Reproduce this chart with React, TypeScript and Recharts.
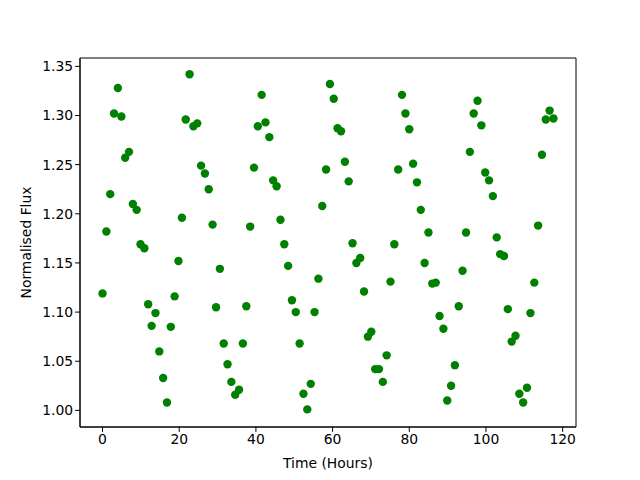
import React from 'react';
import { ScatterChart, Scatter, XAxis, YAxis, ReferenceArea } from 'recharts';

const hours = [
  0.0, 1.0, 2.0, 3.0, 4.0, 4.9, 5.9, 6.9, 7.9, 8.9,
  9.9, 10.9, 11.9, 12.8, 13.8, 14.8, 15.8, 16.8, 17.8, 18.8,
  19.8, 20.7, 21.7, 22.7, 23.7, 24.7, 25.7, 26.7, 27.7, 28.7,
  29.6, 30.6, 31.6, 32.6, 33.6, 34.6, 35.6, 36.6, 37.5, 38.5,
  39.5, 40.5, 41.5, 42.5, 43.5, 44.5, 45.4, 46.4, 47.4, 48.4,
  49.4, 50.4, 51.4, 52.4, 53.4, 54.3, 55.3, 56.3, 57.3, 58.3,
  59.3, 60.3, 61.3, 62.2, 63.2, 64.2, 65.2, 66.2, 67.2, 68.2,
  69.2, 70.1, 71.1, 72.1, 73.1, 74.1, 75.1, 76.1, 77.1, 78.1,
  79.0, 80.0, 81.0, 82.0, 83.0, 84.0, 85.0, 86.0, 86.9, 87.9,
  88.9, 89.9, 90.9, 91.9, 92.9, 93.9, 94.8, 95.8, 96.8, 97.8,
  98.8, 99.8, 100.8, 101.8, 102.8, 103.7, 104.7, 105.7, 106.7, 107.7,
  108.7, 109.7, 110.7, 111.6, 112.6, 113.6, 114.6, 115.6, 116.6, 117.6,
];

const flux = [
  1.119, 1.182, 1.220, 1.302, 1.328, 1.299, 1.257, 1.263, 1.210, 1.204,
  1.169, 1.165, 1.108, 1.086, 1.099, 1.060, 1.033, 1.008, 1.085, 1.116,
  1.152, 1.196, 1.296, 1.342, 1.289, 1.292, 1.249, 1.241, 1.225, 1.189,
  1.105, 1.144, 1.068, 1.047, 1.029, 1.016, 1.021, 1.068, 1.106, 1.187,
  1.247, 1.289, 1.321, 1.293, 1.278, 1.234, 1.228, 1.194, 1.169, 1.147,
  1.112, 1.100, 1.068, 1.017, 1.001, 1.027, 1.100, 1.134, 1.208, 1.245,
  1.332, 1.317, 1.287, 1.284, 1.253, 1.233, 1.170, 1.150, 1.155, 1.121,
  1.075, 1.080, 1.042, 1.042, 1.029, 1.056, 1.131, 1.169, 1.245, 1.321,
  1.302, 1.286, 1.251, 1.232, 1.204, 1.150, 1.181, 1.129, 1.130, 1.096,
  1.083, 1.010, 1.025, 1.046, 1.106, 1.142, 1.181, 1.263, 1.302, 1.315,
  1.290, 1.242, 1.234, 1.218, 1.176, 1.159, 1.157, 1.103, 1.070, 1.076,
  1.017, 1.008, 1.023, 1.099, 1.130, 1.188, 1.260, 1.296, 1.305, 1.297,
];

const xTicks = [0, 20, 40, 60, 80, 100, 120];
const yTicks = [1.0, 1.05, 1.1, 1.15, 1.2, 1.25, 1.3, 1.35];

const points = hours.map((t, i) => ({ t, f: flux[i] }));

const X_DOMAIN = [-5.88, 123.48];
const Y_DOMAIN = [0.9831, 1.3585];

const font = 'DejaVu Sans, sans-serif';
const tickStyle = { fontSize: 13.9, fill: '#000', fontFamily: font };

const Dot = (props: any) => <circle cx={props.cx} cy={props.cy} r={4.2} fill="#008000" />;

export default function App() {
  return (
    <div style={{ position: 'absolute', left: 0, top: 0, background: '#fff' }}>
      <ScatterChart width={640} height={480} margin={{ top: 58, right: 64, bottom: 0, left: 0 }}>
        <XAxis
          type="number"
          dataKey="t"
          domain={X_DOMAIN}
          ticks={xTicks}
          allowDataOverflow
          height={53}
          tick={tickStyle}
          tickSize={4.9}
          tickLine={{ stroke: '#000' }}
          axisLine={{ stroke: '#000' }}
          label={{ value: 'Time (Hours)', position: 'insideBottom', offset: 12, style: { ...tickStyle, textAnchor: 'middle' } }}
        />
        <YAxis
          type="number"
          dataKey="f"
          domain={Y_DOMAIN}
          ticks={yTicks}
          allowDataOverflow
          width={80}
          tick={tickStyle}
          tickSize={4.9}
          tickLine={{ stroke: '#000' }}
          axisLine={{ stroke: '#000' }}
          tickFormatter={(v: number) => v.toFixed(2)}
          label={{ value: 'Normalised Flux', angle: -90, position: 'insideLeft', offset: 26, style: { ...tickStyle, textAnchor: 'middle' } }}
        />
        <ReferenceArea x1={X_DOMAIN[0]} x2={X_DOMAIN[1]} y1={Y_DOMAIN[0]} y2={Y_DOMAIN[1]} fill="none" stroke="#000" strokeOpacity={1} />
        <Scatter data={points} shape={Dot} isAnimationActive={false} />
      </ScatterChart>
    </div>
  );
}
